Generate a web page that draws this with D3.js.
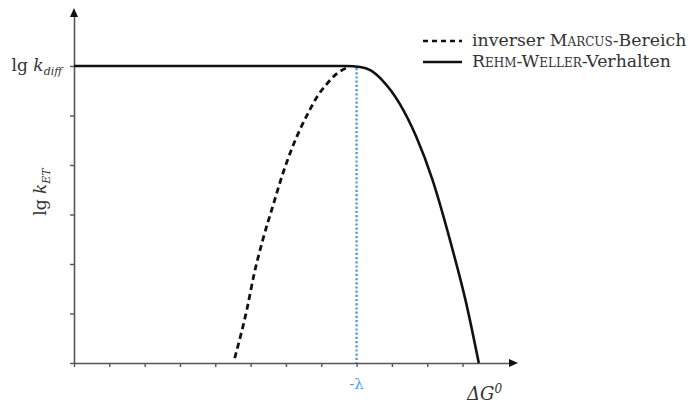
<!DOCTYPE html>
<html>
<head>
<meta charset="utf-8">
<script src="https://cdn.jsdelivr.net/npm/d3@7"></script>
<style>
  body { margin: 0; background: #fff; }
  text { font-family: "DejaVu Serif", "Liberation Serif", serif; fill: #333; }
  .sc { font-variant: small-caps; }
</style>
</head>
<body>
<div id="chart"></div>
<script>
// chart values (axis units: x = ΔG ticks, y = lg k ticks)
const xTicks = d3.range(0, 12);
const yTicks = d3.range(0, 7);
const lambdaPos = 8;       // -λ sits on tick 8
const diffLevel = 6;       // lg k_diff level

// inverse Marcus region (dashed)
const marcusX = [4.55, 4.9, 5.1, 5.35, 5.65, 5.9, 6.15, 6.4, 6.65, 6.9, 7.15, 7.45, 7.75];
const marcusY = [0.1, 1.1, 1.8, 2.5, 3.22, 3.8, 4.3, 4.72, 5.08, 5.4, 5.63, 5.85, 5.97];

// Rehm-Weller behaviour (solid)
const rehmX = [0, 7.7, 8.1, 8.4, 8.73, 9.21, 9.69, 10.14, 10.71, 11.1, 11.46];
const rehmY = [6, 6, 5.98, 5.91, 5.71, 5.25, 4.57, 3.72, 2.31, 1.22, 0];

const legendLabels = [
    {pre: 'inverser ', sc: 'Marcus', post: '-Bereich', dash: '5,4'},
    {pre: '', sc: 'Rehm-Weller', post: '-Verhalten', dash: null}
];

const svgWidth = 692;
const svgHeight = 403;

const svg = d3.select('#chart')
.append('svg')
.attr('width', svgWidth)
.attr('height', svgHeight);

// scales - domains run a bit past the last tick so the axes end in arrows
const xScale = d3.scaleLinear()
.domain([0, 12.4])
.range([74, 512]);

const yScale = d3.scaleLinear()
.domain([0, 7.05])
.range([363, 14]);

//axes
const xAxis = d3.axisBottom(xScale)
.tickValues(xTicks)
.tickFormat('')
.tickSizeInner(4)
.tickSizeOuter(0);

const yAxis = d3.axisLeft(yScale)
.tickValues(yTicks)
.tickFormat('')
.tickSizeInner(4)
.tickSizeOuter(0);

const gx = svg.append('g')
.attr('transform', `translate(0, ${yScale(0)})`)
.call(xAxis);

const gy = svg.append('g')
.attr('transform', `translate(${xScale(0)}, 0)`)
.call(yAxis);

[gx, gy].forEach(g => {
    g.select('.domain').attr('stroke', '#555').attr('stroke-width', 1.6);
    g.selectAll('.tick line').attr('stroke', '#555').attr('stroke-width', 1.4);
});

// arrow heads
const xEnd = xScale(12.4), yEnd = yScale(7.05);
svg.append('path')
.attr('d', `M${xEnd + 6},${yScale(0)} L${xEnd - 3},${yScale(0) - 4} L${xEnd - 3},${yScale(0) + 4} Z`)
.attr('fill', '#111');
svg.append('path')
.attr('d', `M${xScale(0)},${yEnd - 6} L${xScale(0) - 4},${yEnd + 3} L${xScale(0) + 4},${yEnd + 3} Z`)
.attr('fill', '#111');

// -λ marker line
svg.append('line')
.attr('x1', xScale(lambdaPos))
.attr('x2', xScale(lambdaPos))
.attr('y1', yScale(diffLevel) + 2)
.attr('y2', yScale(0))
.attr('stroke', '#5b9bd5')
.attr('stroke-width', 2.4)
.attr('stroke-dasharray', '2.2,2');

const line = d3.line()
.x(d => xScale(d[0]))
.y(d => yScale(d[1]))
.curve(d3.curveMonotoneX);

svg.append('path')
.datum(d3.zip(marcusX, marcusY))
.attr('d', line)
.attr('fill', 'none')
.attr('stroke', '#111')
.attr('stroke-width', 2.8)
.attr('stroke-dasharray', '6,4');

svg.append('path')
.datum(d3.zip(rehmX, rehmY))
.attr('d', line)
.attr('fill', 'none')
.attr('stroke', '#111')
.attr('stroke-width', 2.6);

// axis labels
const kdiff = svg.append('text')
.attr('x', 62)
.attr('y', yScale(diffLevel) + 5)
.attr('text-anchor', 'end')
.attr('font-size', 17);
kdiff.append('tspan').text('lg ');
kdiff.append('tspan').attr('font-style', 'italic').text('k');
kdiff.append('tspan').attr('font-style', 'italic').attr('font-size', 11).attr('dy', 4).text('diff');

const ket = svg.append('text')
.attr('transform', `translate(46, 192) rotate(-90)`)
.attr('text-anchor', 'middle')
.attr('font-size', 17);
ket.append('tspan').text('lg ');
ket.append('tspan').attr('font-style', 'italic').text('k');
ket.append('tspan').attr('font-style', 'italic').attr('font-size', 11).attr('dy', 4).text('ET');

svg.append('text')
.attr('x', xScale(lambdaPos))
.attr('y', 389)
.attr('text-anchor', 'middle')
.attr('font-size', 15)
.style('fill', '#5b9bd5')
.text('-λ');

const dg = svg.append('text')
.attr('x', 467)
.attr('y', 400)
.attr('font-size', 18)
.attr('font-style', 'italic');
dg.append('tspan').text('ΔG');
dg.append('tspan').attr('font-size', 12).attr('dy', -7).text('0');

// legend
const legend = svg.selectAll('.legend')
.data(legendLabels)
.enter()
.append('g')
.attr('class', 'legend')
.attr('transform', (d, i) => `translate(423, ${41 + i * 21})`);

legend.append('line')
.attr('x1', 0)
.attr('x2', 39)
.attr('stroke', '#111')
.attr('stroke-width', 2.6)
.attr('stroke-dasharray', d => d.dash);

const legendText = legend.append('text')
.attr('x', 49)
.attr('y', 5)
.attr('font-size', 17.3);
legendText.append('tspan').text(d => d.pre);
legendText.append('tspan').attr('class', 'sc').text(d => d.sc);
legendText.append('tspan').text(d => d.post);
</script>
</body>
</html>
